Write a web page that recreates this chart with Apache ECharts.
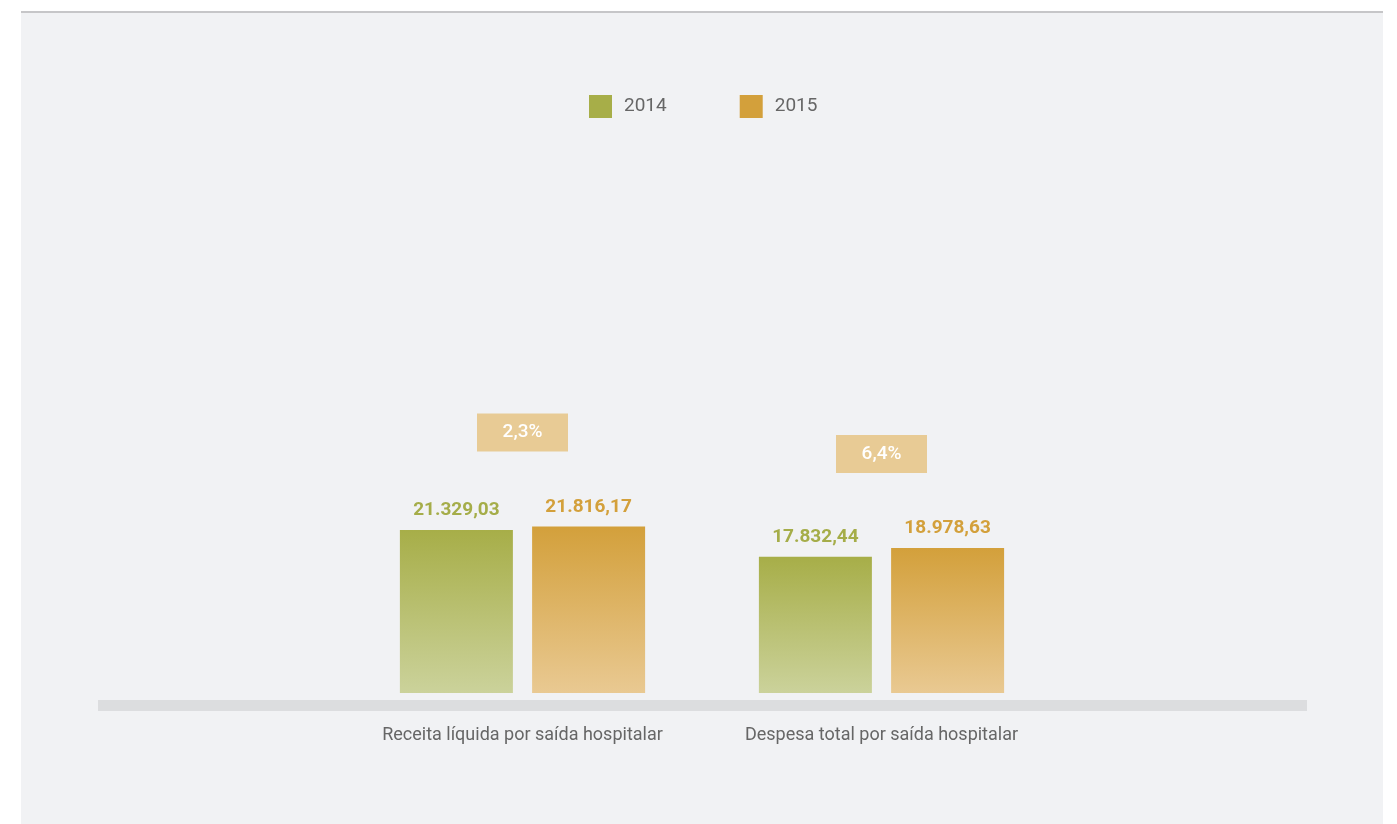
<!DOCTYPE html>
<html>
<head>
<meta charset="utf-8">
<script src="https://cdn.jsdelivr.net/npm/echarts@6/dist/echarts.min.js"></script>
<style>
  html, body { margin: 0; padding: 0; background: #ffffff; }
  #panel {
    position: absolute; left: 21px; top: 11px; width: 1362px; height: 813px;
    background: #f1f2f4; border-top: 2px solid #c6c6c8; box-sizing: border-box;
  }
  #chart { position: absolute; left: 0; top: 0; width: 1397px; height: 824px; }
</style>
</head>
<body>
<div id="panel"></div>
<div id="chart"></div>
<script>
// Indicadores por saída hospitalar (R$)
const categories = ['Receita líquida por saída hospitalar', 'Despesa total por saída hospitalar'];
const years = ['2014', '2015'];
const values2014 = [21329.03, 17832.44];
const values2015 = [21816.17, 18978.63];
const variationLabels = ['2,3%', '6,4%'];

const FONT = "Roboto, 'Liberation Sans', sans-serif";
const GREEN = '#a7ae48';
const GOLD = '#d3a03b';

function fmtBR(v) {
  return v.toLocaleString('pt-BR', { minimumFractionDigits: 2, maximumFractionDigits: 2 });
}

function grad(top, bottom) {
  return new echarts.graphic.LinearGradient(0, 0, 0, 1, [
    { offset: 0, color: top },
    { offset: 1, color: bottom }
  ]);
}

const chart = echarts.init(document.getElementById('chart'), null, { renderer: 'canvas' });

const option = {
  backgroundColor: 'transparent',
  animation: false,
  legend: {
    data: [
      { name: years[0], itemStyle: { color: GREEN } },
      { name: years[1], itemStyle: { color: GOLD } }
    ],
    top: 90,
    left: 584,
    itemWidth: 23,
    itemHeight: 23,
    itemGap: 73,
    icon: 'rect',
    textStyle: { fontFamily: FONT, fontSize: 19, color: '#666666', padding: [2, 0, 0, 7] }
  },
  grid: { left: 343, right: 336, top: 82, bottom: 131 },
  xAxis: {
    type: 'category',
    data: categories,
    axisLine: { show: false },
    axisTick: { show: false },
    axisLabel: { interval: 0, margin: 33, fontFamily: FONT, fontSize: 18, color: '#666666' }
  },
  yAxis: {
    type: 'value',
    min: 0,
    max: 80000,
    show: false,
    splitLine: { show: false }
  },
  graphic: [
    {
      type: 'rect',
      shape: { x: 98, y: 700, width: 1209, height: 11 },
      style: { fill: '#dcdddf' },
      z: 0
    }
  ],
  series: [
    {
      name: years[0],
      type: 'bar',
      data: values2014,
      barWidth: 113,
      barGap: '17%',
      itemStyle: { color: grad(GREEN, '#cbd29b') },
      label: {
        show: true, position: 'top', distance: 10,
        fontFamily: FONT, fontSize: 19, fontWeight: 'bold', color: '#a5ad49',
        formatter: p => fmtBR(p.value)
      }
    },
    {
      name: years[1],
      type: 'bar',
      data: values2015,
      barWidth: 113,
      barGap: '17%',
      itemStyle: { color: grad(GOLD, '#e9c992') },
      label: {
        show: true, position: 'top', distance: 10,
        fontFamily: FONT, fontSize: 19, fontWeight: 'bold', color: GOLD,
        formatter: p => fmtBR(p.value)
      }
    },
    {
      name: 'variação',
      type: 'scatter',
      data: values2014.map((v, i) => ({ value: Math.max(v, values2015[i]), label: variationLabels[i] })),
      symbol: 'rect',
      symbolSize: [91, 38],
      symbolOffset: [0, -94],
      itemStyle: { color: '#e8cb95', opacity: 1 },
      label: {
        show: true, position: 'inside',
        fontFamily: FONT, fontSize: 19, fontWeight: 500, color: '#ffffff',
        formatter: p => p.data.label
      },
      z: 3
    }
  ]
};

chart.setOption(option);
</script>
</body>
</html>
